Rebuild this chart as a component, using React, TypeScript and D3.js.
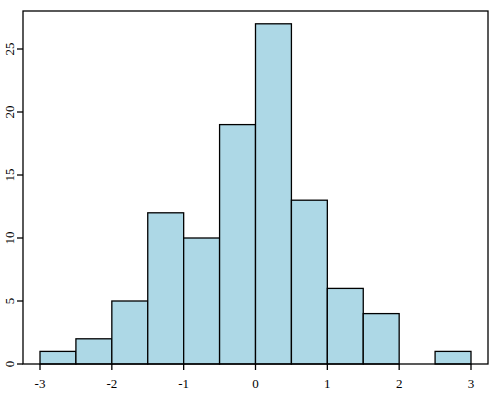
import React, { useEffect, useRef } from "react";
import * as d3 from "d3";

// histogram bins (left edge) and counts
const binStarts = [-3, -2.5, -2, -1.5, -1, -0.5, 0, 0.5, 1, 1.5, 2, 2.5];
const counts = [1, 2, 5, 12, 10, 19, 27, 13, 6, 4, 0, 1];
const binWidth = 0.5;
const xTicks = [-3, -2, -1, 0, 1, 2, 3];
const yTicks = [0, 5, 10, 15, 20, 25];

export default function App() {
    const svgRef = useRef<SVGSVGElement>(null);

    useEffect(() => {
        if (!svgRef.current) return;
        const svg = d3.select(svgRef.current);
        svg.selectAll("*").remove();

        const left = 23, right = 488, top = 11, bottom = 364;
        const x = d3.scaleLinear().domain([-3, 3]).range([40, 471]);
        const y = d3.scaleLinear().domain([0, 25]).range([bottom, bottom - 25 * 12.6]);
        const font = "'Liberation Serif', 'DejaVu Serif', serif";

        svg.selectAll(".bar")
            .data(counts)
            .enter()
            .append("rect")
            .attr("class", "bar")
            .attr("x", (d, i) => x(binStarts[i]))
            .attr("y", d => y(d))
            .attr("width", (d, i) => x(binStarts[i] + binWidth) - x(binStarts[i]))
            .attr("height", d => bottom - y(d))
            .attr("fill", "#add8e6")
            .attr("stroke", "#000")
            .attr("stroke-width", 1.3);

        // frame
        svg.append("rect")
            .attr("x", left).attr("y", top)
            .attr("width", right - left).attr("height", bottom - top)
            .attr("fill", "none").attr("stroke", "#000").attr("stroke-width", 1.3);

        // x ticks + labels
        const xg = svg.append("g");
        xTicks.forEach(t => {
            xg.append("line")
                .attr("x1", x(t)).attr("x2", x(t))
                .attr("y1", bottom).attr("y2", bottom + 6)
                .attr("stroke", "#000").attr("stroke-width", 1.3);
            xg.append("text")
                .attr("x", x(t)).attr("y", bottom + 24)
                .attr("text-anchor", "middle")
                .style("font-family", font).style("font-size", "13px")
                .text(String(t));
        });

        // y ticks + rotated labels
        const yg = svg.append("g");
        yTicks.forEach(t => {
            yg.append("line")
                .attr("x1", left - 6).attr("x2", left)
                .attr("y1", y(t)).attr("y2", y(t))
                .attr("stroke", "#000").attr("stroke-width", 1.3);
            yg.append("text")
                .attr("transform", `translate(14,${y(t)}) rotate(-90)`)
                .attr("text-anchor", "middle")
                .style("font-family", font).style("font-size", "13px")
                .text(String(t));
        });
    }, []);

    return (
        <div style={{ position: "absolute", left: 0, top: 0, width: 500, height: 400 }}>
            <svg ref={svgRef} width={500} height={400} style={{ display: "block", background: "#fff" }}></svg>
        </div>
    );
}
